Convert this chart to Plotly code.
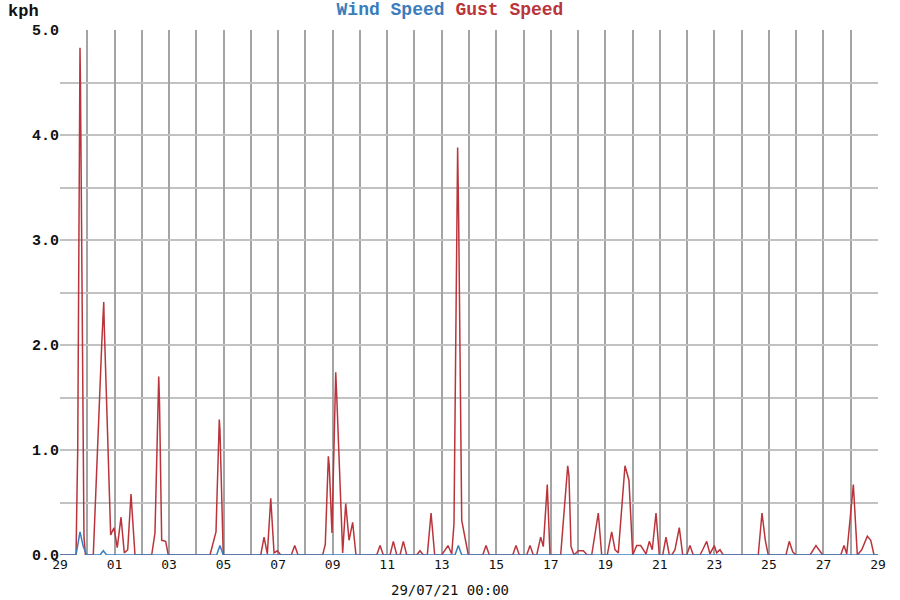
import pandas as pd
import plotly.graph_objects as go

START = "2021-06-29 00:00"
END = "2021-07-29 00:00"

# hours since 29/06/21 00:00 and gust speed (kph)
gust_hours = [0, 14.1, 15.6, 16.7, 17.6, 18.0, 19.6, 21.1, 22.4,
              29.3, 36.7, 38.5, 39.0, 44.6, 47.5, 50.4, 53.7, 56.6, 59.6, 62.5, 66.0,
              80.7, 83.6, 86.9, 87.6, 89.5, 93.0, 95.3,
              132.0, 137.3, 140.2, 140.8, 143.7,
              176.7, 179.6, 182.5, 185.5, 188.4, 191.3, 194.3,
              203.6, 206.6, 209.5,
              231.2, 233.5, 236.2, 237.0, 239.4, 242.7, 243.6, 248.8, 251.5, 254.4, 257.6, 260.5,
              278.8, 281.7, 284.6, 290.5, 293.4, 296.4, 299.3, 302.2, 305.2,
              314.0, 316.9, 319.8, 323.3, 326.6, 329.8,
              336.0, 341.5, 344.8, 346.8, 350.0, 350.9, 353.6, 359.4,
              372.1, 375.0, 377.9, 398.5, 401.4, 404.3, 410.8, 413.7, 416.6,
              419.6, 423.1, 425.4, 428.9, 431.3,
              440.7, 446.9, 448.0, 449.8, 452.4, 456.2, 460.6, 464.1,
              468.0, 473.8, 476.8,
              481.7, 485.6, 488.5, 491.4, 497.3, 500.8, 504.1, 507.6, 511.1, 515.8, 518.7,
              521.3, 524.6, 527.5, 530.5, 533.4, 536.3, 538.5, 541.3, 545.1, 548.1,
              551.6, 554.5, 557.4,
              563.3, 565.7, 569.2, 572.1, 575.9, 578.0, 580.9, 583.8,
              614.6, 617.9, 620.8, 623.4,
              639.0, 641.9, 644.9, 647.8,
              660.2, 665.4, 671.3,
              687.2, 690.1, 692.5, 698.3, 701.8, 705.7, 710.6, 713.6, 716.5, 720.0]
gust_kph = [0, 0, 1.01, 3.80, 4.83, 4.50, 2.04, 0.17, 0,
            0, 2.00, 2.41, 2.17, 0.19, 0.26, 0.07, 0.36, 0.02, 0.05, 0.58, 0,
            0, 0.21, 1.70, 1.45, 0.14, 0.13, 0,
            0, 0.22, 1.29, 1.19, 0,
            0, 0.17, 0.01, 0.54, 0.02, 0.04, 0,
            0, 0.09, 0,
            0, 0.10, 0.94, 0.85, 0.21, 1.74, 1.51, 0.02, 0.49, 0.14, 0.31, 0,
            0, 0.09, 0, 0, 0.13, 0, 0, 0.13, 0,
            0, 0.04, 0, 0, 0.40, 0,
            0, 0.09, 0.01, 0.30, 3.88, 3.20, 0.33, 0,
            0, 0.09, 0, 0, 0.09, 0, 0, 0.09, 0,
            0, 0.17, 0.08, 0.67, 0,
            0, 0.85, 0.75, 0.08, 0, 0.04, 0.04, 0,
            0, 0.40, 0,
            0, 0.22, 0.05, 0.02, 0.85, 0.71, 0, 0.09, 0.09, 0.01, 0.13,
            0.05, 0.40, 0, 0, 0.17, 0, 0, 0.05, 0.26, 0,
            0, 0.09, 0,
            0, 0.05, 0.13, 0.01, 0.09, 0.02, 0.05, 0,
            0, 0.40, 0.14, 0,
            0, 0.13, 0.03, 0,
            0, 0.09, 0,
            0, 0.09, 0.01, 0.67, 0, 0.05, 0.18, 0.14, 0, 0]

wind_hours = [0, 14.1, 17.6, 20.5, 23.5, 35.2, 38.1, 41.1,
              137.9, 140.8, 143.7, 347.7, 350.6, 353.6, 720.0]
wind_kph = [0, 0, 0.22, 0.08, 0, 0, 0.04, 0,
            0, 0.09, 0, 0, 0.09, 0, 0]

X_TITLE = "29/07/21 00:00"
Y_UNIT = "kph"

WIND_COLOR = "#3a7dbd"
GUST_COLOR = "#b9353b"

start = pd.Timestamp(START)
gust_t = start + pd.to_timedelta(gust_hours, unit="h")
wind_t = start + pd.to_timedelta(wind_hours, unit="h")

fig = go.Figure()
fig.add_trace(go.Scatter(x=gust_t, y=gust_kph, mode="lines", name="Gust Speed",
                         line=dict(color=GUST_COLOR, width=1.5)))
fig.add_trace(go.Scatter(x=wind_t, y=wind_kph, mode="lines", name="Wind Speed",
                         line=dict(color=WIND_COLOR, width=1.5)))

DAY = 86400000
fig.update_layout(
    width=900, height=600,
    margin=dict(l=60, r=22, t=30, b=45, autoexpand=False),
    paper_bgcolor="white", plot_bgcolor="white",
    showlegend=False,
    title=dict(
        text=f"<span style='color:{WIND_COLOR}'>Wind Speed</span> "
             f"<span style='color:{GUST_COLOR}'>Gust Speed</span>",
        x=0.5, xanchor="center", yref="container", y=1.0, yanchor="top",
        pad=dict(t=2, b=0, l=0, r=0),
        font=dict(family="Liberation Mono", size=18, weight="bold"),
    ),
    xaxis=dict(
        range=[START, END], type="date", automargin=False,
        tick0="2021-06-29", dtick=2 * DAY, tickformat="%d",
        showgrid=True, gridcolor="#a4a4a4", gridwidth=1.6,
        minor=dict(dtick=DAY, showgrid=True, gridcolor="#a4a4a4", gridwidth=1.6),
        zeroline=False, showline=False, ticks="",
        tickfont=dict(family="DejaVu Sans Mono", size=13, color="#111"),
    ),
    yaxis=dict(
        range=[0, 5], dtick=1, tickformat=".1f", automargin=False,
        showgrid=True, gridcolor="#c2c2c2", gridwidth=1.6,
        minor=dict(dtick=0.5, showgrid=True, gridcolor="#c2c2c2", gridwidth=1.6),
        zeroline=False, showline=False, ticks="",
        tickfont=dict(family="Liberation Mono", size=15, color="#111", weight="bold"),
    ),
    annotations=[
        dict(text=Y_UNIT, xref="paper", yref="paper", x=-0.066, y=1.036,
             xanchor="left", yanchor="middle", showarrow=False,
             font=dict(family="Liberation Mono", size=17, color="#111", weight="bold")),
        dict(text=X_TITLE, xref="paper", yref="paper", x=(450 - 60) / 818, y=-0.0667,
             xanchor="center", yanchor="middle", showarrow=False,
             font=dict(family="DejaVu Sans Mono", size=14, color="#111")),
    ],
)

fig.write_html("out.html", config={"displayModeBar": False},
               post_script="document.body.style.margin='0px';")
